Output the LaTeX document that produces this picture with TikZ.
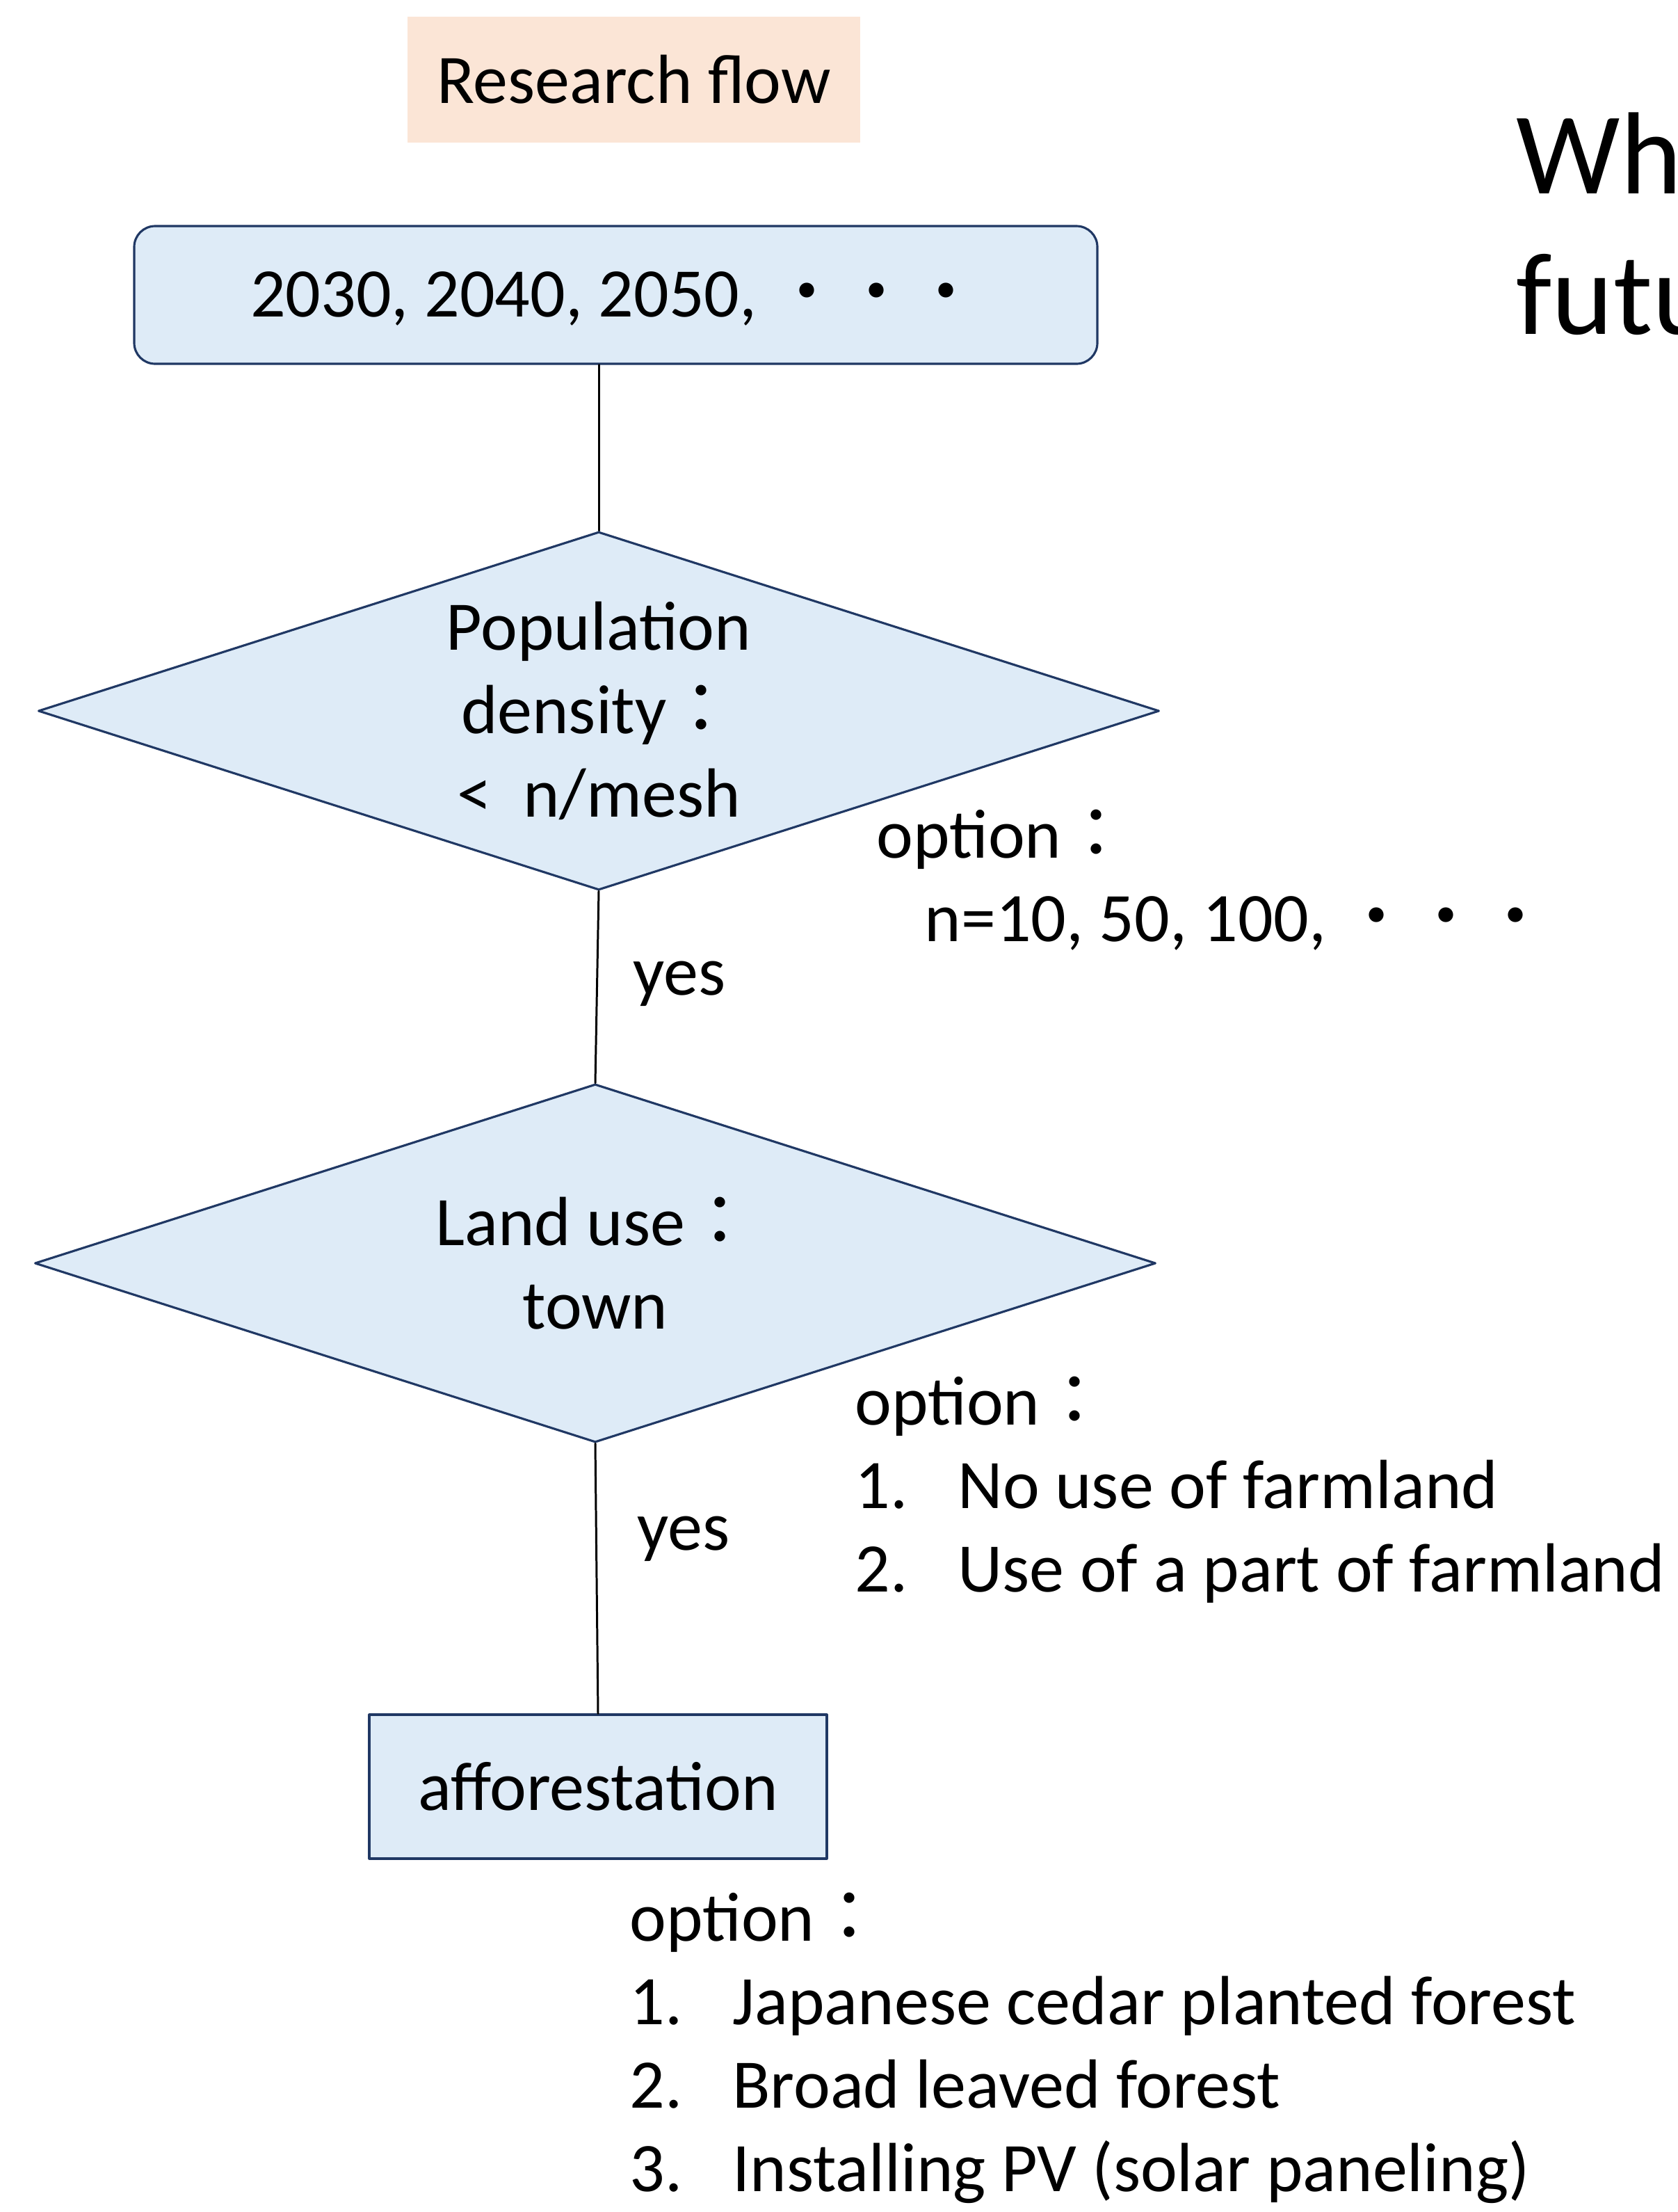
\documentclass[tikz,border=0pt]{standalone}
\usepackage{fontspec}
\setmainfont{Carlito}
\newfontfamily\jpfont{Noto Sans CJK JP}
\usetikzlibrary{shapes.geometric}
\definecolor{boxfill}{HTML}{DEEBF7}
\definecolor{boxline}{HTML}{203864}
\definecolor{titlefill}{HTML}{FBE5D6}
\newcommand{\jcolon}{{\jpfont ：}}
\newcommand{\jdots}{{\jpfont ・・・}}
\newcommand{\numline}[2]{\makebox[1.48cm][l]{#1}#2}
\begin{document}
\begin{tikzpicture}[line join=round, line cap=round]
	\tikzset{every node/.style={font=\fontsize{28.45}{34.14}\selectfont, inner sep=0pt},
		flowbox/.style={draw=boxline, fill=boxfill, line width=0.9pt},
		decision/.style={flowbox, diamond, aspect=3.13, minimum width=16.12cm, minimum height=5.15cm, align=center},
		link/.style={draw=black, line width=0.85pt},
		optlist/.style={anchor=base west, align=left}}
	\useasboundingbox (0,0) rectangle (24.12,-31.80);
	\node[fill=titlefill, minimum width=6.51cm, minimum height=1.81cm] (title) at (9.115,-1.145) {Research flow};
	\node[flowbox, rounded corners=0.3cm, minimum width=13.85cm, minimum height=1.98cm, text height=0.75cm, text depth=0.13cm] (years) at (8.855,-4.24) {2030, 2040, 2050, \jdots};
	\node[decision] (density) at (8.61,-10.22) {Population\\density\jcolon\\<~~n/mesh};
	\node[decision] (landuse) at (8.56,-18.16) {Land use\jcolon\\town};
	\node[flowbox, minimum width=6.58cm, minimum height=2.07cm] (aff) at (8.60,-25.685) {afforestation};
	\draw[link] (density.north |- years.south) -- (density.north);
	\draw[link] (density.south) -- (landuse.north);
	\draw[link] (landuse.south) -- (aff.north);
	\node[anchor=base west] (yes1) at (9.10,-14.30) {yes};
	\node[anchor=base west] (yes2) at (9.16,-22.28) {yes};
	% options (anchored at the last line)
	\node[optlist] (opt1) at (12.60,-13.53) {option\jcolon\\\hspace*{0.69cm}n=10, 50, 100, \jdots};
	\node[optlist] (opt2) at (12.29,-22.88) {option\jcolon\\\numline{1.}{No use of farmland}\\\numline{2.}{Use of a part of farmland}};
	\node[optlist] (opt3) at (9.05,-31.50) {option\jcolon\\\numline{1.}{Japanese cedar planted forest}\\\numline{2.}{Broad leaved forest}\\\numline{3.}{Installing PV (solar paneling)}};
	\begin{scope}
		\clip (0,0) rectangle (24.12,-31.80);
		\node[optlist, font=\fontsize{47.8}{57.4}\selectfont] (head) at (21.80,-4.80) {Wh\\futu};
	\end{scope}
\end{tikzpicture}
\end{document}
